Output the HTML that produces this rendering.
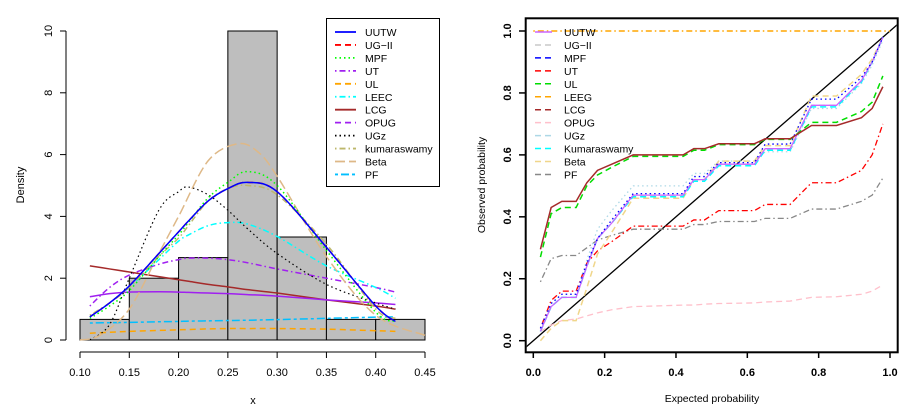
<!DOCTYPE html>
<html><head><meta charset="utf-8"><style>
body{margin:0;background:#fff;font-family:"Liberation Sans",sans-serif}
svg{display:block}
text{font-family:"Liberation Sans",sans-serif}
</style></head><body>
<svg id="s" width="917" height="412" viewBox="0 0 917 412"></svg>
<script>
// ---------- LEFT: histogram data ----------
const binEdges=[0.10,0.15,0.20,0.25,0.30,0.35,0.40,0.45];
const binDensity=[0.667,2,2.667,10,3.333,0.667,0.667];
const xTicksL=[0.10,0.15,0.20,0.25,0.30,0.35,0.40,0.45];
const yTicksL=[0,2,4,6,8,10];
const dX=[0.11,0.13,0.15,0.18,0.20,0.21,0.23,0.25,0.27,0.30,0.35,0.40,0.42];
const uutw=[0.75,1.2,1.75,2.8,3.5,3.85,4.5,4.9,5.1,4.8,3.0,1.1,0.6];
const ug2=[0.75,1.2,1.75,2.8,3.5,3.85,4.5,4.9,5.1,4.8,3.0,1.1,0.6];
const mpf=[0.7,1.1,1.6,2.7,3.4,3.8,4.6,5.1,5.45,5.0,2.9,0.9,0.6];
const ut=[1.1,1.7,2.1,2.45,2.6,2.65,2.65,2.6,2.5,2.3,2.0,1.7,1.55];
const ul=[0.22,0.25,0.28,0.31,0.33,0.34,0.36,0.37,0.37,0.37,0.35,0.3,0.28];
const leec=[0.75,1.2,1.7,2.6,3.2,3.4,3.7,3.8,3.75,3.35,2.4,1.7,1.35];
const lcg=[2.4,2.3,2.2,2.05,1.95,1.9,1.8,1.72,1.63,1.52,1.3,1.1,1.0];
const opug=[1.4,1.5,1.55,1.56,1.55,1.54,1.52,1.5,1.47,1.42,1.3,1.2,1.15];
const ugz=[0,0.5,2.0,4.2,4.8,4.95,4.7,4.2,3.6,2.8,1.8,1.2,1.0];
const kuma=[0.8,1.2,1.7,2.7,3.3,3.7,4.5,4.9,5.0,4.7,3.1,1.0,0.7];
const betaX=[0.10,0.12,0.15,0.18,0.20,0.23,0.26,0.28,0.30,0.35,0.40,0.45];
const beta=[0.0,0.15,1.0,2.8,4.0,5.8,6.35,6.1,5.3,2.7,0.8,0.15];
const pf=[0.55,0.56,0.57,0.59,0.6,0.61,0.62,0.63,0.64,0.66,0.7,0.74,0.75];

// ---------- RIGHT: PP plot data ----------
const ppX=[0.02,0.05,0.08,0.12,0.15,0.18,0.22,0.28,0.42,0.45,0.48,0.52,0.62,0.65,0.72,0.78,0.85,0.92,0.95,0.98];
const pUUTW=[0.03,0.11,0.14,0.14,0.24,0.33,0.38,0.47,0.47,0.52,0.52,0.57,0.57,0.62,0.62,0.76,0.76,0.84,0.9,0.98];
const pUG2=[0.03,0.11,0.14,0.14,0.24,0.33,0.38,0.47,0.47,0.52,0.52,0.57,0.57,0.62,0.62,0.76,0.76,0.84,0.9,0.98];
const pMPF=[0.04,0.12,0.15,0.15,0.25,0.33,0.39,0.475,0.475,0.53,0.53,0.575,0.575,0.635,0.635,0.78,0.78,0.85,0.9,0.98];
const pUT=[0.04,0.13,0.16,0.16,0.25,0.29,0.32,0.37,0.37,0.39,0.39,0.42,0.42,0.44,0.44,0.51,0.51,0.55,0.6,0.7];
const pUL=[0.27,0.41,0.43,0.43,0.5,0.535,0.56,0.595,0.595,0.615,0.615,0.633,0.633,0.65,0.65,0.705,0.705,0.74,0.77,0.855];
const pLCG=[0.295,0.43,0.45,0.45,0.51,0.55,0.57,0.6,0.6,0.62,0.62,0.636,0.636,0.652,0.652,0.695,0.695,0.72,0.75,0.82];
const pUGz=[0.04,0.12,0.15,0.15,0.26,0.36,0.42,0.5,0.5,0.54,0.54,0.58,0.58,0.61,0.61,0.75,0.75,0.83,0.89,0.97];
const pKuma=[0.03,0.11,0.14,0.14,0.24,0.33,0.38,0.465,0.465,0.515,0.515,0.565,0.565,0.615,0.615,0.755,0.755,0.835,0.9,0.98];
const pBeta=[0.0,0.04,0.065,0.065,0.17,0.28,0.35,0.46,0.46,0.52,0.52,0.58,0.58,0.63,0.63,0.79,0.79,0.86,0.91,0.98];
const pPF=[0.19,0.265,0.275,0.275,0.3,0.325,0.34,0.36,0.36,0.375,0.375,0.385,0.385,0.395,0.395,0.425,0.425,0.45,0.47,0.525];
const pOPUG=[0.03,0.05,0.065,0.07,0.08,0.09,0.1,0.11,0.115,0.115,0.118,0.12,0.122,0.125,0.128,0.14,0.142,0.15,0.16,0.18];
const leegX=[0.0,1.0];
const pLEEG=[1.0,1.0];
const xTicksR=[0,0.2,0.4,0.6,0.8,1.0];
const yTicksR=[0,0.2,0.4,0.6,0.8,1.0];

const NS="http://www.w3.org/2000/svg";
const svg=document.getElementById('s');
function mk(tag,at,parent){const e=document.createElementNS(NS,tag);for(const k in at)e.setAttribute(k,at[k]);(parent||svg).appendChild(e);return e;}

const lx=v=>80+(v-0.10)*(345/0.35);
const ly=v=>340-v*30.9;
const rx=v=>533.3+v*356.7;
const ry=v=>340.7-v*309.7;

binDensity.forEach((d,i)=>{
  const r=mk('rect',{x:lx(binEdges[i]),y:ly(d),width:lx(binEdges[i+1])-lx(binEdges[i]),height:ly(0)-ly(d),fill:'#bebebe',stroke:'#000','stroke-width':1});
  
  
});
let a=mk('line',{x1:80,x2:425,y1:352,y2:352,stroke:'#000'});

xTicksL.forEach(t=>{mk('line',{x1:lx(t),x2:lx(t),y1:352,y2:358,stroke:'#000'});
  const tx=mk('text',{x:lx(t),y:376,'font-size':11,'text-anchor':'middle'});tx.textContent=t.toFixed(2);
  });
a=mk('line',{x1:66,x2:66,y1:ly(0),y2:ly(10),stroke:'#000'});

yTicksL.forEach(t=>{mk('line',{x1:60,x2:66,y1:ly(t),y2:ly(t),stroke:'#000'});
  const tx=mk('text',{x:0,y:0,'font-size':11,'text-anchor':'middle',transform:`translate(52,${ly(t)}) rotate(-90)`});tx.textContent=t;
  });
let t1=mk('text',{x:253,y:404,'font-size':11,'text-anchor':'middle'});t1.textContent='x';

t1=mk('text',{x:0,y:0,'font-size':11,'text-anchor':'middle',transform:'translate(24,185) rotate(-90)'});t1.textContent='Density';


function curve(xs,ys,sx,sy,col,dash,w,name){
  const p=mk('polyline',{points:xs.map((x,i)=>sx(x)+','+sy(ys[i])).join(' '),fill:'none',stroke:col,'stroke-width':w,'stroke-dasharray':dash});
  
  
}
function smooth(xs,ys,sx,sy,col,dash,w,name){
  const P=xs.map((x,i)=>[sx(x),sy(ys[i])]);
  let d='M'+P[0][0]+','+P[0][1];
  for(let i=0;i<P.length-1;i++){
    const p0=P[Math.max(0,i-1)],p1=P[i],p2=P[i+1],p3=P[Math.min(P.length-1,i+2)];
    const c1=[p1[0]+(p2[0]-p0[0])/6,p1[1]+(p2[1]-p0[1])/6];
    const c2=[p2[0]-(p3[0]-p1[0])/6,p2[1]-(p3[1]-p1[1])/6];
    d+=` C${c1[0]},${c1[1]} ${c2[0]},${c2[1]} ${p2[0]},${p2[1]}`;
  }
  const p=mk('path',{d:d,fill:'none',stroke:col,'stroke-width':w,'stroke-dasharray':dash});
  
  
}
const DOT='1.5,3',DASH='6,4',DD='1.5,3,6,3',LD='10,4',TD='3,3,8,3';
smooth(dX,ul,lx,ly,'#ffa500',DASH,1.5,'curve-ul');
smooth(dX,pf,lx,ly,'#00bfff',TD,1.5,'curve-pf');
smooth(dX,ut,lx,ly,'#a020f0',DD,1.5,'curve-ut');
smooth(dX,lcg,lx,ly,'#a52a2a','',1.5,'curve-lcg');
smooth(dX,opug,lx,ly,'#a020f0','',1.5,'curve-opug');
smooth(dX,leec,lx,ly,'#00ffff',DD,1.5,'curve-leec');
smooth(dX,ugz,lx,ly,'#000',DOT,1.2,'curve-ugz');
smooth(betaX,beta,lx,ly,'#deb887',LD,1.5,'curve-beta');
smooth(dX,kuma,lx,ly,'#bdb76b',DD,1.5,'curve-kumaraswamy');
smooth(dX,mpf,lx,ly,'#00ff00',DOT,1.5,'curve-mpf');
smooth(dX,ug2,lx,ly,'#ff0000',DASH,1.5,'curve-ug-ii');
smooth(dX,uutw,lx,ly,'#0000ff','',1.5,'curve-uutw');

const legL=[['UUTW','#0000ff',''],['UG\u2212II','#ff0000',DASH],['MPF','#00ff00',DOT],['UT','#a020f0',DD],['UL','#ffa500',DASH],['LEEC','#00ffff',DD],['LCG','#a52a2a',''],['OPUG','#a020f0',DASH],['UGz','#000',DOT],['kumaraswamy','#bdb76b',DD],['Beta','#deb887',LD],['PF','#00bfff',TD]];
const lg=mk('g',{});
mk('rect',{x:326.5,y:18.5,width:113,height:168,fill:'#fff',stroke:'#000'},lg);
legL.forEach((e,i)=>{const y=32+i*12.95;
  mk('line',{x1:335,x2:356,y1:y,y2:y,stroke:e[1],'stroke-width':1.8,'stroke-dasharray':e[2]},lg);
  const t=mk('text',{x:365,y:y+4,'font-size':10.5},lg);t.textContent=e[0];
  });

a=mk('rect',{x:525.7,y:18.3,width:372,height:334,fill:'none',stroke:'#000','stroke-width':2});

xTicksR.forEach(t=>{mk('line',{x1:rx(t),x2:rx(t),y1:352,y2:358,stroke:'#000','stroke-width':1.5});
  const tx=mk('text',{x:rx(t),y:376,'font-size':11,'font-weight':'bold','text-anchor':'middle'});tx.textContent=t.toFixed(1);
  });
yTicksR.forEach(t=>{mk('line',{x1:519,x2:525.7,y1:ry(t),y2:ry(t),stroke:'#000','stroke-width':1.5});
  const tx=mk('text',{x:0,y:0,'font-size':11,'font-weight':'bold','text-anchor':'middle',transform:`translate(511,${ry(t)}) rotate(-90)`});tx.textContent=t.toFixed(1);
  });
t1=mk('text',{x:712,y:402,'font-size':10.5,'text-anchor':'middle'});t1.textContent='Expected probability';

t1=mk('text',{x:0,y:0,'font-size':10.5,'text-anchor':'middle',transform:'translate(485,185) rotate(-90)'});t1.textContent='Observed probability';


mk('clipPath',{id:'cr'}).appendChild(document.createElementNS(NS,'rect'));
const cr=document.querySelector('#cr rect');cr.setAttribute('x',526.7);cr.setAttribute('y',19.3);cr.setAttribute('width',370);cr.setAttribute('height',332);
a=mk('line',{x1:rx(-0.05),y1:ry(-0.05),x2:rx(1.05),y2:ry(1.05),stroke:'#000','stroke-width':1.3,'clip-path':'url(#cr)'});


const DS='6,4';
curve(ppX,pOPUG,rx,ry,'#ffc0cb',DS,1.3,'pp-opug');
curve(ppX,pPF,rx,ry,'#888',DD,1.3,'pp-pf');
curve(ppX,pUT,rx,ry,'#ff0000',DD,1.3,'pp-ut');
curve(ppX,pUGz,rx,ry,'#add8e6',DOT,1.3,'pp-ugz');
curve(ppX,pBeta,rx,ry,'#f0d68a',DS,1.5,'pp-beta');
curve(ppX,pUG2,rx,ry,'#c8c8c8',DS,1.3,'pp-ug-ii');
curve(ppX,pKuma,rx,ry,'#00ffff',DS,1.5,'pp-kumaraswamy');
curve(ppX,pUUTW,rx,ry,'#cc66ff','',1.3,'pp-uutw');
curve(ppX,pMPF,rx,ry,'#0000ff',DOT,1.3,'pp-mpf');
curve(ppX,pUL,rx,ry,'#00dd00',DS,1.5,'pp-ul');
curve(ppX,pLCG,rx,ry,'#a52a2a','',1.5,'pp-lcg');
curve(leegX,pLEEG,rx,ry,'#ffa500',DD,1.5,'pp-leeg');

const legR=[['UUTW','#cc66ff',''],['UG\u2212II','#c8c8c8',DS],['MPF','#0000ff',DS],['UT','#ff0000',DS],['UL','#00dd00',DS],['LEEG','#ffa500',DS],['LCG','#a52a2a',DS],['OPUG','#ffc0cb',DS],['UGz','#add8e6',DS],['Kumaraswamy','#00ffff',DS],['Beta','#f0d68a',DS],['PF','#888',DS]];
const lr=mk('g',{});
legR.forEach((e,i)=>{const y=32+i*12.95;
  mk('line',{x1:535,x2:552,y1:y,y2:y,stroke:e[1],'stroke-width':1.5,'stroke-dasharray':e[2]},lr);
  const t=mk('text',{x:564,y:y+4,'font-size':10.5},lr);t.textContent=e[0];
  });
</script>
</body></html>
